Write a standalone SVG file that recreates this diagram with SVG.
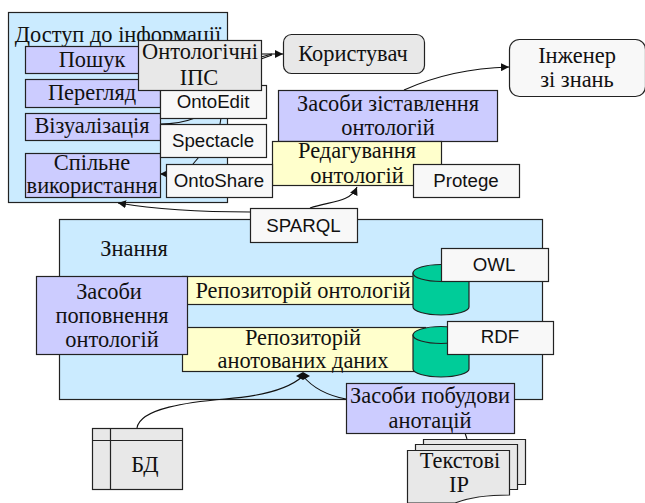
<svg xmlns="http://www.w3.org/2000/svg" width="645" height="503" viewBox="0 0 645 503">
<style>
rect,path.s,ellipse{stroke:#222;stroke-width:1.2}
.panel{fill:#cbebff}.tool{fill:#ccccff}.repo{fill:#ffffcc}.tag{fill:#f8f8f8}.grey{fill:#e8e8e8}.cyl{fill:#00cc99}
text{font-family:"Liberation Serif",serif;font-size:22.400px;fill:#111;text-anchor:middle}
text.sans{font-family:"Liberation Sans",sans-serif;font-size:18.700px}
.c{fill:none;stroke:#111;stroke-width:1.1}
</style>
<defs>
<marker id="a" markerWidth="9" markerHeight="8" refX="8" refY="4" orient="auto" markerUnits="userSpaceOnUse"><path d="M0 0L8 4L0 8Z" fill="#111"/></marker>
<marker id="d" markerWidth="14" markerHeight="8" refX="7" refY="4" orient="0" markerUnits="userSpaceOnUse"><path d="M0 4L7 0L14 4L7 8Z" fill="#111"/></marker>
</defs>
<g id="panel-access"><rect class="panel" x="8.500" y="12.500" width="219" height="190"/><text x="118" y="42">Доступ до інформації</text></g>
<g id="panel-knowledge"><rect class="panel" x="59.500" y="219.500" width="483" height="180"/><text x="134" y="256">Знання</text></g>
<g id="connectors">
<path class="c" d="M261 57L272 54" />
<path class="c" d="M261 59L272 55" />
<path class="c" d="M261 54H283" marker-end="url(#a)"/>
<path class="c" d="M404 90C435 76 470 68 509 67" marker-end="url(#a)"/>
<path class="c" d="M310 208C330 201 350 203 357 187" marker-end="url(#a)"/>
<path class="c" d="M250 212C205 212 160 210 118 203" marker-end="url(#a)"/>
<path class="c" d="M160 124C172 124 185 122 195 118"/>
<path class="c" d="M221 118L220 124"/>
<path class="c" d="M193 164L199 157"/>
<path class="c" d="M172 174H160" marker-end="url(#a)"/>
<path class="c" d="M137 428C140 408 190 402 225 399C265 396 290 388 303 376" marker-end="url(#d)"/>
<path class="c" d="M346 399C325 395 312 387 303 376"/>
<path class="c" d="M465 433L467 439"/>
</g>
<g id="search"><rect class="tool" x="25.500" y="46.500" width="125" height="27"/><text x="92" y="67">Пошук</text></g>
<g id="browse"><rect class="tool" x="25.500" y="79.500" width="135" height="28"/><text x="92" y="100">Перегляд</text></g>
<g id="visual"><rect class="tool" x="25.500" y="113.500" width="135" height="27"/><text x="92" y="133">Візуалізація</text></g>
<g id="share"><rect class="tool" x="25.500" y="153.500" width="135" height="44"/><text x="92" y="170">Спільне</text><text x="92" y="193">використання</text></g>
<g id="ontoedit"><rect class="tag" x="160.500" y="85.500" width="106" height="33"/><text class="sans" x="213" y="108">OntoEdit</text></g>
<g id="spectacle"><rect class="tag" x="160.500" y="124.500" width="106" height="33"/><text class="sans" x="213" y="147">Spectacle</text></g>
<g id="ips"><rect class="grey" x="138.500" y="40.500" width="123" height="50"/><text x="200" y="59">Онтологічні</text><text x="199" y="85">ІПС</text></g>
<g id="user"><rect class="grey" x="283.500" y="34.500" width="141" height="39" rx="8"/><text x="353" y="61">Користувач</text></g>
<g id="engineer"><rect class="tag" x="509.500" y="39.500" width="136" height="57" rx="10"/><text x="577" y="63">Інженер</text><text x="577" y="87">зі знань</text></g>
<g id="mapping"><rect class="tool" x="278.500" y="90.500" width="219" height="51"/><text x="388" y="111">Засоби зіставлення</text><text x="388" y="135">онтологій</text></g>
<g id="editing"><rect class="repo" x="272.500" y="141.500" width="169" height="44"/><text x="357" y="158">Редагування</text><text x="357" y="183">онтологій</text></g>
<g id="ontoshare"><rect class="tag" x="166.500" y="164.500" width="106" height="33"/><text class="sans" x="219" y="187">OntoShare</text></g>
<g id="protege"><rect class="tag" x="413.500" y="164.500" width="106" height="33"/><text class="sans" x="466" y="187">Protege</text></g>
<g id="sparql"><rect class="tag" x="250.500" y="208.500" width="107" height="34"/><text class="sans" x="303.500" y="232">SPARQL</text></g>
<g id="repo-ont"><rect class="repo" x="182.500" y="276.500" width="231" height="28"/><text x="303" y="298">Репозиторій онтологій</text></g>
<g id="repo-ann"><rect class="repo" x="182.500" y="327.500" width="243" height="44"/><text x="303" y="345">Репозиторій</text><text x="303" y="368">анотованих даних</text></g>
<g id="enrich"><rect class="tool" x="36.500" y="276.500" width="151" height="78"/><text x="109" y="299">Засоби</text><text x="112" y="323">поповнення</text><text x="112" y="347">онтологій</text></g>
<g id="cyl-owl"><path class="s cyl" d="M413 273V307C413 311 425 315 441 315S469 311 469 307V273Z"/><ellipse class="cyl" cx="441" cy="273" rx="28" ry="8.500"/></g>
<g id="owl"><rect class="tag" x="441.500" y="248.500" width="107" height="33"/><text class="sans" x="494" y="271">OWL</text></g>
<g id="cyl-rdf"><path class="s cyl" d="M413 335V369C413 373 425 377 441 377S469 373 469 369V335Z"/><ellipse class="cyl" cx="441" cy="335" rx="28" ry="8.500"/></g>
<g id="rdf"><rect class="tag" x="447.500" y="321.500" width="106" height="33"/><text class="sans" x="500" y="343">RDF</text></g>
<g id="annot"><rect class="tool" x="346.500" y="383.500" width="168" height="50"/><text x="430" y="403">Засоби побудови</text><text x="430" y="428">анотацій</text></g>
<g id="db"><rect class="grey" x="92.500" y="428.500" width="90" height="61"/><path class="s" fill="none" d="M92 440.500H182M110.500 428V489"/><text x="145" y="472">БД</text></g>
<g id="docs">
<path class="s grey" d="M423.500 439.500H525.500V484.500H500V490H423.500Z"/>
<path class="s grey" d="M415.500 444.500H517.500V489.500H490V495H415.500Z"/>
<path class="s grey" d="M407.500 450.500H509.500V495C490 495 470 497 455 503H407.500Z"/>
<text x="460" y="468">Текстові</text><text x="459" y="492">ІР</text></g>
</svg>
